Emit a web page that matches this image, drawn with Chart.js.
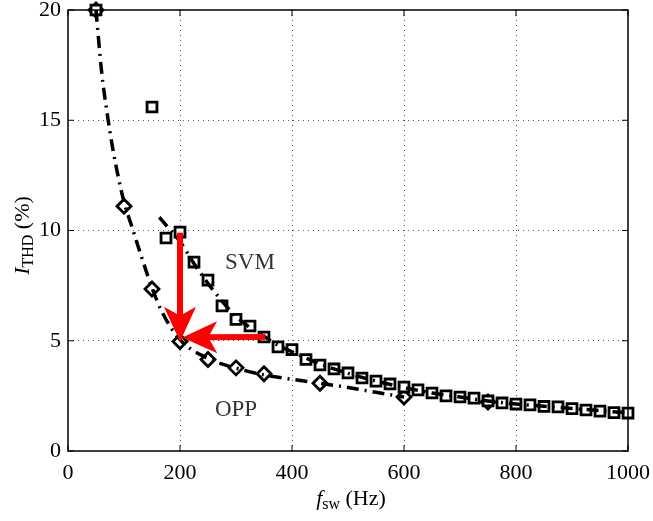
<!DOCTYPE html>
<html>
<head>
    <title>THD vs switching frequency</title>
    <script src="https://cdn.jsdelivr.net/npm/chart.js"></script>
    <style>
        body { margin: 0; background: #fff; }
    </style>
</head>
<body>
    <canvas id="grafico" width="653" height="521"></canvas>
    <script>
        // measured SVM points (squares)
        const svmFsw = [50, 150, 175, 200, 225, 250, 275, 300, 325, 350, 375, 400, 425, 450, 475, 500,
            525, 550, 575, 600, 625, 650, 675, 700, 725, 750, 775, 800, 825, 850, 875, 900, 925, 950, 975, 1000];
        const svmThd = [20, 15.6, 9.66, 9.93, 8.57, 7.75, 6.58, 5.97, 5.67, 5.17, 4.72, 4.6, 4.15, 3.9, 3.72, 3.54,
            3.31, 3.17, 3.04, 2.9, 2.77, 2.63, 2.5, 2.45, 2.4, 2.27, 2.18, 2.13, 2.09, 2.02, 2.0, 1.92, 1.86, 1.81, 1.74, 1.72];

        // measured OPP points (diamonds)
        const oppFsw = [50, 100, 150, 200, 250, 300, 350, 450, 600, 750];
        const oppThd = [20, 11.1, 7.35, 4.97, 4.15, 3.77, 3.5, 3.07, 2.45, 2.22];

        // fitted curves
        const oppFitFsw = [50, 60, 70, 80, 90, 100, 115, 130, 150, 170, 200, 250, 300, 350, 400, 450, 500, 550, 600];
        const oppFitThd = [20, 17.2, 15.3, 13.7, 12.4, 11.3, 10.1, 8.9, 7.4, 6.2, 5.05, 4.2, 3.76, 3.45, 3.25, 3.07, 2.88, 2.66, 2.45];
        const svmFitFsw = [163, 180, 200, 225, 250, 275, 300, 325, 350, 375, 400, 450, 500, 550, 600, 650, 700, 750, 800, 850, 900, 950, 1000];
        const svmFitThd = [10.6, 10.1, 9.5, 8.5, 7.6, 6.8, 6.1, 5.6, 5.2, 4.8, 4.5, 3.95, 3.52, 3.17, 2.88, 2.63, 2.45, 2.27, 2.13, 2.03, 1.93, 1.83, 1.73];

        // red arrows: [x0, y0, x1, y1] in data units
        const arrows = [[200, 9.9, 200, 4.95], [352, 5.17, 204, 5.15]];
        // text labels: [text, x, y]
        const notes = [['SVM', 325, 8.53], ['OPP', 300, 1.86]];

        const xTicks = [0, 200, 400, 600, 800, 1000];
        const yTicks = [0, 5, 10, 15, 20];

        const serif = '"Liberation Serif", "DejaVu Serif", serif';

        function pts(xs, ys) {
            return xs.map((x, i) => ({ x: x, y: ys[i] }));
        }

        const decor = {
            id: 'decor',
            afterDatasetsDraw(chart) {
                const ctx = chart.ctx;
                const a = chart.chartArea;
                const sx = chart.scales.x, sy = chart.scales.y;
                ctx.save();

                // arrows
                ctx.fillStyle = '#ff0000';
                ctx.strokeStyle = '#ff0000';
                arrows.forEach(ar => {
                    const x0 = sx.getPixelForValue(ar[0]), y0 = sy.getPixelForValue(ar[1]);
                    const x1 = sx.getPixelForValue(ar[2]), y1 = sy.getPixelForValue(ar[3]);
                    const ang = Math.atan2(y1 - y0, x1 - x0);
                    const len = Math.hypot(x1 - x0, y1 - y0);
                    ctx.save();
                    ctx.translate(x0, y0);
                    ctx.rotate(ang);
                    ctx.lineWidth = 6;
                    ctx.beginPath();
                    ctx.moveTo(0, 0);
                    ctx.lineTo(len - 20, 0);
                    ctx.stroke();
                    ctx.beginPath();
                    ctx.moveTo(len, 0);
                    ctx.lineTo(len - 35, -16);
                    ctx.lineTo(len - 26, 0);
                    ctx.lineTo(len - 35, 16);
                    ctx.closePath();
                    ctx.fill();
                    ctx.restore();
                });

                // frame
                ctx.strokeStyle = '#000';
                ctx.lineWidth = 1.5;
                ctx.strokeRect(a.left, a.top, a.right - a.left, a.bottom - a.top);

                // inward ticks
                ctx.lineWidth = 1;
                ctx.beginPath();
                xTicks.forEach(v => {
                    const x = sx.getPixelForValue(v);
                    ctx.moveTo(x, a.bottom); ctx.lineTo(x, a.bottom - 6);
                    ctx.moveTo(x, a.top); ctx.lineTo(x, a.top + 6);
                });
                yTicks.forEach(v => {
                    const y = sy.getPixelForValue(v);
                    ctx.moveTo(a.left, y); ctx.lineTo(a.left + 6, y);
                    ctx.moveTo(a.right, y); ctx.lineTo(a.right - 6, y);
                });
                ctx.stroke();

                // notes
                ctx.fillStyle = '#333';
                ctx.font = '23px ' + serif;
                ctx.textAlign = 'center';
                ctx.textBaseline = 'middle';
                notes.forEach(n => {
                    ctx.fillText(n[0], sx.getPixelForValue(n[1]), sy.getPixelForValue(n[2]));
                });

                // axis titles with subscripts
                ctx.fillStyle = '#000';
                ctx.textBaseline = 'alphabetic';
                ctx.textAlign = 'left';
                function title(parts, cx, cy) {
                    let w = 0;
                    parts.forEach(p => { ctx.font = p[1]; w += ctx.measureText(p[0]).width; });
                    let x = cx - w / 2;
                    parts.forEach(p => {
                        ctx.font = p[1];
                        ctx.fillText(p[0], x, cy + p[2]);
                        x += ctx.measureText(p[0]).width;
                    });
                }
                const big = '22px ' + serif, bigI = 'italic 22px ' + serif, small = '16px ' + serif;
                title([['f', bigI, 0], ['sw', small, 4], [' (Hz)', big, 0]], (a.left + a.right) / 2 + 3, 505);
                ctx.save();
                ctx.translate(29, (a.top + a.bottom) / 2 + 5);
                ctx.rotate(-Math.PI / 2);
                title([['I', bigI, 0], ['THD', small, 4], [' (%)', big, 0]], 0, 0);
                ctx.restore();

                ctx.restore();
            }
        };

        const grid = {
            color: ctx => (ctx.tick && (ctx.tick.value === 0 || ctx.tick.value === 1000 || ctx.tick.value === 20)) ? 'rgba(0,0,0,0)' : '#555',
            lineWidth: 1,
            drawTicks: false
        };

        new Chart(document.getElementById('grafico').getContext('2d'), {
            type: 'scatter',
            data: {
                datasets: [
                    {
                        label: 'OPP fit',
                        data: pts(oppFitFsw, oppFitThd),
                        showLine: true,
                        borderColor: '#000',
                        borderWidth: 3.5,
                        borderDash: [12, 6, 2, 6],
                        pointRadius: 0,
                        cubicInterpolationMode: 'monotone'
                    },
                    {
                        label: 'SVM fit',
                        data: pts(svmFitFsw, svmFitThd),
                        showLine: true,
                        borderColor: '#000',
                        borderWidth: 3.5,
                        borderDash: [12, 6, 2, 6],
                        pointRadius: 0,
                        cubicInterpolationMode: 'monotone'
                    },
                    {
                        label: 'SVM',
                        data: pts(svmFsw, svmThd),
                        clip: false,
                        pointStyle: 'rect',
                        pointRadius: 7,
                        pointBorderWidth: 2.8,
                        pointBackgroundColor: '#fff',
                        pointBorderColor: '#000'
                    },
                    {
                        label: 'OPP',
                        data: pts(oppFsw, oppThd),
                        clip: false,
                        pointStyle: 'rectRot',
                        pointRadius: 7,
                        pointBorderWidth: 2.8,
                        pointBackgroundColor: '#fff',
                        pointBorderColor: '#000'
                    }
                ]
            },
            options: {
                responsive: false,
                animation: false,
                events: [],
                layout: { padding: { left: 0, top: 10, right: 25, bottom: 0 } },
                plugins: { legend: { display: false }, tooltip: { enabled: false } },
                scales: {
                    x: {
                        type: 'linear',
                        min: 0,
                        max: 1000,
                        grid: grid,
                        border: { display: false, dash: [1, 4] },
                        ticks: {
                            stepSize: 200,
                            padding: 9,
                            color: '#000',
                            font: { family: serif, size: 22 },
                            maxRotation: 0,
                            callback: v => String(v)
                        },
                        afterFit: s => { s.height = 70; s.paddingLeft = 0; s.paddingRight = 0; }
                    },
                    y: {
                        min: 0,
                        max: 20,
                        grid: grid,
                        border: { display: false, dash: [1, 4] },
                        ticks: {
                            stepSize: 5,
                            padding: 7,
                            color: '#000',
                            font: { family: serif, size: 22 },
                            callback: v => String(v)
                        },
                        afterFit: s => { s.width = 68; s.paddingTop = 0; s.paddingBottom = 0; }
                    }
                }
            },
            plugins: [decor]
        });
    </script>
</body>
</html>
